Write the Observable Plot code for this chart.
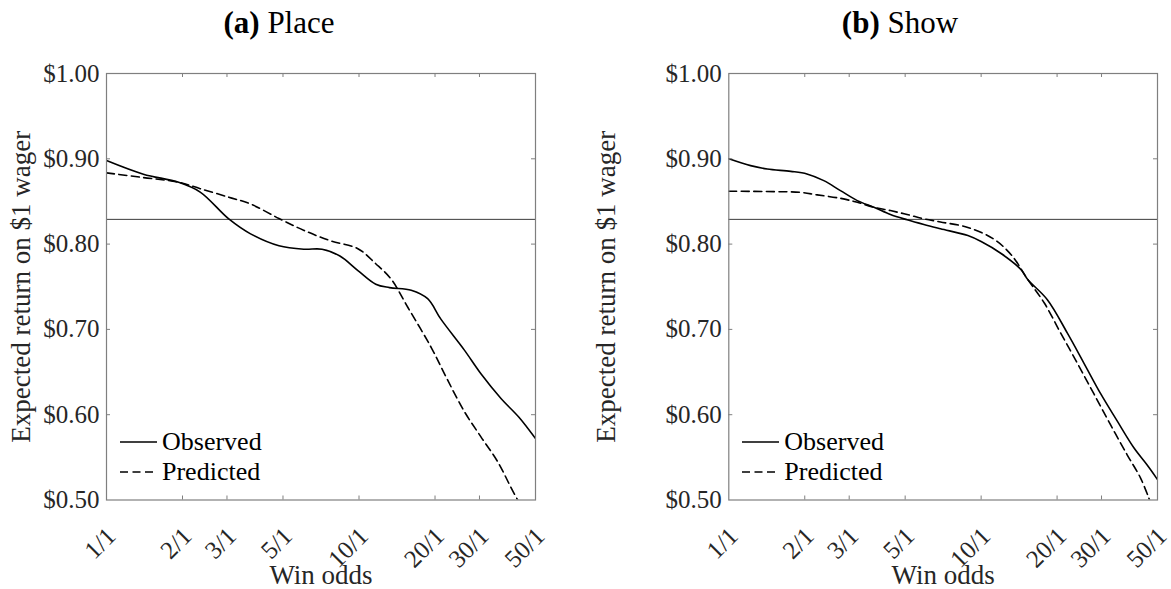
<!DOCTYPE html>
<html>
<head>
<meta charset="utf-8">
<script src="https://cdn.jsdelivr.net/npm/d3@7"></script>
<script src="https://cdn.jsdelivr.net/npm/@observablehq/plot@0.6"></script>
<style>
  html, body { margin: 0; padding: 0; background: #fff; }
  #root { position: relative; width: 1171px; height: 589px; overflow: hidden; font-family: "Liberation Serif", "DejaVu Serif", serif; color: #000; }
  #root svg text { font-family: "Liberation Serif", "DejaVu Serif", serif !important; }
  .panel { position: absolute; top: 0; }
  .title { position: absolute; top: 5px; font-size: 31px; white-space: nowrap; transform: translateX(-50%); }
  .legend { position: absolute; font-size: 26px; color: #000; }
  .legend div { display: flex; align-items: center; height: 30px; }
  .legend svg { margin-right: 5px; }
</style>
</head>
<body>
<div id="root"></div>
<script>
// ---- data ----
const xTicks = [1, 2, 3, 5, 10, 20, 30, 50];
const yTicks = [0.5, 0.6, 0.7, 0.8, 0.9, 1.0];
const trackTake = 0.829;

const placeObsOdds = [1, 1.4, 1.93, 2.35, 3.05, 3.72, 4.82, 6.06, 7.14, 8.4, 9.9, 11.65, 13.2, 16.1, 18.7, 21.1, 26.1, 30.4, 36.5, 43, 50];
const placeObsRet  = [0.898, 0.882, 0.8724, 0.861, 0.8295, 0.812, 0.798, 0.794, 0.794, 0.786, 0.769, 0.753, 0.749, 0.746, 0.736, 0.712, 0.676, 0.648, 0.619, 0.597, 0.572];

const placePredOdds = [1, 1.4, 1.93, 2.35, 3.05, 3.72, 4.82, 6.06, 7.7, 9.9, 11.65, 13.4, 15.6, 19.3, 22.4, 26.1, 30.4, 35.4, 40, 42.5];
const placePredRet  = [0.8835, 0.878, 0.8725, 0.865, 0.855, 0.847, 0.830, 0.816, 0.804, 0.7946, 0.777, 0.759, 0.726, 0.679, 0.641, 0.604, 0.574, 0.545, 0.5145, 0.500];

const showObsOdds = [1, 1.22, 1.42, 1.76, 2.04, 2.38, 2.77, 3.23, 3.76, 4.37, 5.09, 5.93, 6.9, 8.86, 10, 12, 14.4, 15.3, 18.3, 22, 25.6, 29.8, 34.6, 40.3, 45.5, 50];
const showObsRet  = [0.900, 0.892, 0.888, 0.8853, 0.8823, 0.8744, 0.8627, 0.851, 0.8432, 0.8347, 0.8285, 0.823, 0.818, 0.810, 0.803, 0.789, 0.770, 0.7585, 0.7348, 0.6953, 0.660, 0.6243, 0.5927, 0.5612, 0.541, 0.524];

const showPredOdds = [1, 1.51, 1.92, 2.24, 2.77, 3.23, 3.76, 4.37, 5.09, 5.93, 6.9, 8.86, 11.2, 13.2, 15.3, 17.8, 20.7, 24.1, 28, 32.6, 37.9, 42.8, 46.5];
const showPredRet  = [0.862, 0.8615, 0.8607, 0.8577, 0.8537, 0.849, 0.8432, 0.8393, 0.8347, 0.8296, 0.826, 0.8195, 0.806, 0.787, 0.7585, 0.7309, 0.6953, 0.660, 0.6243, 0.588, 0.553, 0.526, 0.500];

const panels = [
  {tag: "(a)", name: "Place", obsOdds: placeObsOdds, obsRet: placeObsRet, predOdds: placePredOdds, predRet: placePredRet},
  {tag: "(b)", name: "Show", obsOdds: showObsOdds, obsRet: showObsRet, predOdds: showPredOdds, predRet: showPredRet}
];
const seriesNames = ["Observed", "Predicted"];

// ---- layout ----
const H = 589, MT = 73, MB = 89.5;
const layouts = [
  {left: 0, width: 585, ml: 106, mr: 50, titleX: 279},
  {left: 585, width: 586, ml: 143.3, mr: 14, titleX: 900}
];
const FONT = '"Liberation Serif", "DejaVu Serif", serif';
const AX = "#262626";
const FRAME = "#7f7f7f";

const root = document.getElementById("root");

panels.forEach((p, i) => {
  const L = layouts[i];
  const plotW = L.width - L.ml - L.mr;
  const plotH = H - MT - MB;
  const obs = p.obsOdds.map((o, k) => ({odds: o, ret: p.obsRet[k]}));
  const pred = p.predOdds.map((o, k) => ({odds: o, ret: p.predRet[k]}));
  const inner = xTicks.slice(1, -1);
  const innerY = yTicks.slice(1, -1);

  const chart = Plot.plot({
    width: L.width,
    height: H,
    marginLeft: L.ml,
    marginRight: L.mr,
    marginTop: MT,
    marginBottom: MB,
    style: {fontFamily: FONT, fontSize: "25px", background: "transparent", overflow: "visible"},
    x: {type: "log", domain: [1, 50]},
    y: {domain: [0.5, 1.0]},
    marks: [
      Plot.ruleY([trackTake], {stroke: "#3a3a3a", strokeWidth: 1}),
      Plot.line(pred, {x: "odds", y: "ret", stroke: "#000", strokeWidth: 1.6, strokeDasharray: "8,4.5", curve: "catmull-rom", clip: true}),
      Plot.line(obs, {x: "odds", y: "ret", stroke: "#000", strokeWidth: 1.6, curve: "catmull-rom", clip: true}),
      Plot.frame({stroke: FRAME, strokeWidth: 1.2}),
      // inward ticks: top, bottom, left, right
      Plot.tickX(inner, {x: d => d, insetBottom: plotH - 4, stroke: FRAME, strokeWidth: 1}),
      Plot.tickX(inner, {x: d => d, insetTop: plotH - 4, stroke: FRAME, strokeWidth: 1}),
      Plot.tickY(innerY, {y: d => d, insetRight: plotW - 4, stroke: FRAME, strokeWidth: 1}),
      Plot.tickY(innerY, {y: d => d, insetLeft: plotW - 4, stroke: FRAME, strokeWidth: 1}),
      Plot.axisY({ticks: yTicks, tickFormat: d => "$" + d.toFixed(2), tickSize: 0, tickPadding: 7, label: null, fill: AX, fontSize: 25, fontFamily: FONT}),
      Plot.axisX({ticks: [], label: null, tickSize: 0}),
      Plot.text(xTicks, {x: d => d, text: d => d + "/1", frameAnchor: "bottom", rotate: -45, textAnchor: "end", lineAnchor: "middle", dx: 5, dy: 32, fill: AX, fontSize: 25, fontFamily: FONT}),
      Plot.text(["Win odds"], {text: d => d, frameAnchor: "bottom", textAnchor: "middle", dy: 84, lineAnchor: "bottom", fill: AX, fontSize: 27, fontFamily: FONT}),
      Plot.text(["Expected return on $1 wager"], {text: d => d, frameAnchor: "left", textAnchor: "middle", rotate: -90, dx: -(L.ml - 21), lineAnchor: "middle", fill: AX, fontSize: 27, fontFamily: FONT})
    ]
  });
  chart.classList.add("panel");
  chart.style.left = L.left + "px";
  root.appendChild(chart);

  const t = document.createElement("div");
  t.className = "title";
  t.style.left = L.titleX + "px";
  t.innerHTML = "<b>" + p.tag + "</b> " + p.name;
  root.appendChild(t);

  const lg = document.createElement("div");
  lg.className = "legend";
  lg.style.left = (L.left + L.ml + 14) + "px";
  lg.style.top = "427px";
  seriesNames.forEach((s, k) => {
    const row = document.createElement("div");
    row.innerHTML = '<svg width="37" height="10"><line x1="0" x2="37" y1="5" y2="5" stroke="#000" stroke-width="1.6"' + (k === 1 ? ' stroke-dasharray="8,4.5"' : '') + '/></svg><span>' + s + '</span>';
    lg.appendChild(row);
  });
  root.appendChild(lg);
});
</script>
</body>
</html>
